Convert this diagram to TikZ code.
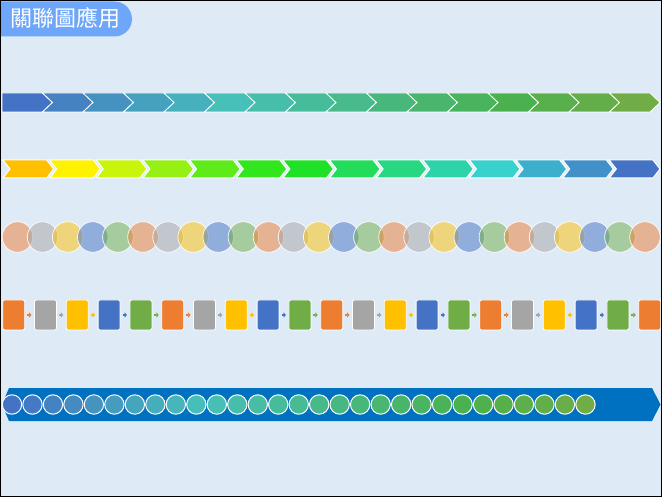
\documentclass[tikz,border=0pt]{standalone}
\usepackage{fontspec}
\newfontfamily\cjk{Noto Sans CJK TC}
\usetikzlibrary{arrows.meta}
\definecolor{bg}{RGB}{222,234,246}
\definecolor{titleblue}{RGB}{110,167,250}
\definecolor{bigblue}{RGB}{0,112,192}
\definecolor{pal0}{RGB}{237,125,49}
\definecolor{pal1}{RGB}{165,165,165}
\definecolor{pal2}{RGB}{255,192,0}
\definecolor{pal3}{RGB}{68,114,196}
\definecolor{pal4}{RGB}{112,173,71}
\definecolor{g0}{RGB}{68,114,196}
\definecolor{g1}{RGB}{70,192,186}
\definecolor{g2}{RGB}{74,177,78}
\definecolor{g3}{RGB}{112,173,71}
\newcommand\setgrad[1]{%
  \pgfmathsetmacro\gradT{#1}%
  \ifdim\gradT pt<0.33pt
    \pgfmathsetmacro\gradP{100*\gradT/0.33}\colorlet{gc}{g1!\gradP!g0}%
  \else\ifdim\gradT pt<0.8pt
    \pgfmathsetmacro\gradP{100*(\gradT-0.33)/0.47}\colorlet{gc}{g2!\gradP!g1}%
  \else
    \pgfmathsetmacro\gradP{100*(\gradT-0.8)/0.2}\colorlet{gc}{g3!\gradP!g2}%
  \fi\fi}
\tikzset{
  seg/.style={draw=white, line width=0.8pt},
  bub/.style={circle, inner sep=0pt, outer sep=0pt, minimum size=30.6pt, fill opacity=0.5, draw=white, draw opacity=0.85, line width=0.8pt},
  boxnode/.style={rectangle, rounded corners=2pt, inner sep=0pt, outer sep=0pt, minimum width=22pt, minimum height=30pt, draw=white, line width=0.8pt},
  conn/.style={line width=2.4pt, -{Triangle[length=2.4pt,width=5.2pt]}},
  dot/.style={circle, inner sep=0pt, outer sep=0pt, minimum size=19.4pt, draw=white, line width=1pt},
}
\begin{document}
\begin{tikzpicture}[x=1pt,y=-1pt]
\useasboundingbox (0,0) rectangle (662,497);
\fill[bg] (0,0) rectangle (662,497);

% Title
\fill[titleblue, rounded corners=17.5pt] (-30,1.5) rectangle (132,36.5);
\node[text=white, font=\cjk\fontsize{22}{22}\selectfont, inner sep=0pt] (title) at (65.5,18.5) {關聯圖應用};

% Row 1 chevrons
\foreach \i in {0,...,15}{
  \pgfmathsetmacro\L{2+40.5*\i}
  \pgfmathsetmacro\R{\L+40.5}
  \setgrad{\i/15}
  \ifnum\i=0 \def\ld{0}\else\def\ld{10}\fi
  \filldraw[seg, fill=gc] (\L,93) -- (\R,93) -- (\R+10,102.5) -- (\R,112) -- (\L,112) -- (\L+\ld,102.5) -- cycle;
}

% Row 2 chevrons
\foreach \i/\c in {0/FFC000,1/FFF200,2/C8F50A,3/96F014,4/5FEB19,5/32E61E,6/1EE128,7/23DC5A,8/28D782,9/2DD4AA,10/37D2CD,11/3CAFCD,12/4191C8,13/4472C4}{
  \definecolor{tmp}{HTML}{\c}
  \pgfmathsetmacro\L{3+46.64*\i}
  \filldraw[seg, line width=1pt, fill=tmp] (\L,160) -- (\L+43.64,160) -- (\L+50.64,169) -- (\L+43.64,178) -- (\L,178) -- (\L+7,169) -- cycle;
}

% Row 3 circles
\foreach \i in {0,...,25}{
  \pgfmathtruncatemacro\k{mod(\i,5)}
  \node[bub, fill=pal\k] (o\i) at ({17.5+25.1*\i},237) {};
}

% Row 4 boxes with arrows
\foreach \i in {0,...,20}{
  \pgfmathtruncatemacro\k{mod(\i,5)}
  \node[boxnode, fill=pal\k] (b\i) at ({13.7+31.8*\i},315) {};
}
\foreach \i in {0,...,19}{
  \pgfmathtruncatemacro\k{mod(\i,5)}
  \pgfmathtruncatemacro\j{\i+1}
  \draw[conn, pal\k] ([xshift=2.4pt]b\i.east) -- ([xshift=-3pt]b\j.west);
}

% Row 5 big arrow with dots
\fill[bigblue] (9,388) -- (652,388) -- (660.5,404.5) -- (652,421) -- (9,421) -- (2,404.5) -- cycle;
\foreach \i in {0,...,28}{
  \setgrad{\i/28}
  \node[dot, fill=gc] (p\i) at ({12+20.48*\i},404.5) {};
}

% Border
\draw[black, line width=1pt] (0.5,0.5) rectangle (661.5,496.5);
\end{tikzpicture}
\end{document}
